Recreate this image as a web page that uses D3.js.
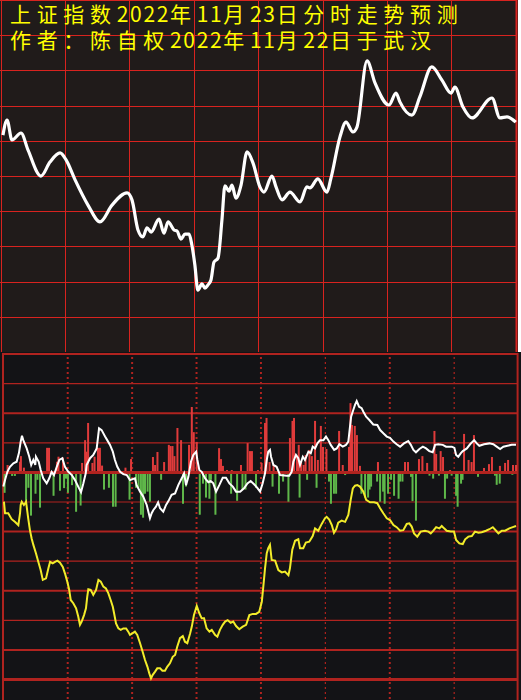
<!DOCTYPE html>
<html>
<head>
<meta charset="utf-8">
<script src="https://cdn.jsdelivr.net/npm/d3@7"></script>
<style>
    body { margin: 0; background: #000; }
    svg { display: block; }
</style>
</head>
<body>
<div class="chart"></div>
<script>
const titleLines = ["上证指数2022年11月23日分时走势预测", "作者：陈自权2022年11月22日于武汉"]

// minute of session (0-240), relative index level (0 = panel bottom, 100 = top)
const priceLine = [[1.1,61.4],[3.0,65.7],[5.3,60.0],[9.5,62.0],[12.8,57.1],[18.8,49.7],[23.0,53.7],[27.7,56.3],[30.5,54.3],[34.7,48.6],[40.7,41.4],[46.3,36.6],[51.9,41.4],[58.9,44.9],[61.2,42.9],[64.0,34.3],[66.3,32.3],[68.2,34.9],[70.1,33.7],[73.8,37.4],[76.1,33.4],[78.0,36.6],[80.8,34.3],[82.2,34.0],[84.0,31.7],[85.9,33.1],[87.8,33.1],[89.1,30.0],[90.5,24.3],[91.9,17.1],[93.8,18.9],[95.2,17.7],[96.6,18.6],[98.0,20.0],[99.4,25.1],[101.3,26.3],[103.1,37.1],[104.5,46.9],[106.4,45.4],[107.8,47.1],[109.6,43.4],[112.0,47.1],[114.8,56.6],[117.6,53.4],[120.8,46.6],[122.7,45.1],[126.4,49.7],[128.3,46.6],[131.1,42.9],[134.8,45.1],[139.5,42.3],[142.7,46.6],[144.1,46.3],[147.8,48.9],[152.0,45.1],[153.9,49.1],[158.1,60.9],[160.9,65.1],[164.1,62.3],[166.0,63.7],[170.7,82.6],[174.4,76.3],[180.9,70.0],[184.2,73.4],[186.0,70.9],[191.6,67.1],[195.3,72.3],[200.9,80.9],[205.6,77.1],[209.8,73.4],[211.6,75.1],[215.4,69.4],[219.6,66.3],[228.9,72.0],[232.6,66.3],[235.9,66.6],[240.0,65.1]]

// lower panel: white oscillator
const flowLine = [[0,-4.8],[0.8,-2.6],[1.9,0.2],[3.1,1.9],[4.7,3.1],[6.2,3.6],[7.3,6.6],[8.1,10.4],[8.7,12.4],[9.3,10.9],[10.9,8.1],[12.1,5.3],[13.0,2.5],[14.0,4.2],[14.9,2.5],[15.2,5.3],[16.5,3.6],[17.4,0.8],[18.6,-2.0],[20.2,-3.7],[21.4,-2.0],[22.5,0.2],[23.6,-0.9],[24.9,1.9],[26.1,4.2],[27.5,4.8],[28.7,1.9],[30.3,0.2],[31.9,-0.9],[33.4,-2.6],[35.3,-5.4],[36.2,-6.7],[37.3,-3.7],[38.4,-0.3],[38.8,2.5],[40.4,4.8],[41.9,5.9],[43.5,8.1],[44.6,14.9],[45.8,14.3],[47.4,12.1],[48.4,10.9],[49.7,9.3],[51.0,7.0],[52.0,4.2],[53.1,1.9],[54.4,0.2],[55.9,-0.6],[57.5,-0.9],[59.0,-2.6],[61.3,-2.0],[62.1,-4.3],[63.7,-6.5],[65.2,-8.2],[66.8,-11.0],[68.3,-15.5],[69.1,-13.8],[69.9,-12.7],[71.1,-11.6],[72.1,-10.1],[73.0,-12.1],[74.5,-13.3],[75.8,-11.0],[76.9,-9.7],[78.4,-7.6],[80.0,-7.1],[81.5,-4.3],[83.1,-2.0],[84.2,-0.3],[85.1,-4.3],[86.2,-1.5],[87.4,3.6],[88.5,5.9],[89.8,7.0],[90.4,4.2],[91.3,0.8],[92.4,0.2],[94.0,-2.0],[95.5,-3.3],[96.6,-2.9],[97.8,-3.7],[99.1,-6.5],[100.6,-4.3],[102.2,-1.8],[103.7,-1.8],[105.3,-3.7],[106.9,-4.8],[108.4,-6.5],[110.3,-6.5],[112.1,-5.4],[113.7,-3.7],[115.2,-2.9],[116.8,-4.0],[118.3,-5.2],[119.6,-6.5],[120.8,-3.7],[121.9,-0.3],[122.7,4.2],[123.4,7.0],[124.2,7.6],[124.7,5.3],[125.8,2.5],[127.3,1.9],[128.9,-0.9],[132.0,-1.1],[133.2,-1.1],[134.3,0.2],[135.1,3.6],[136.3,5.9],[137.4,4.8],[138.2,2.5],[139.5,5.3],[140.5,4.2],[142.1,7.0],[143.2,6.5],[144.1,8.7],[145.2,8.1],[146.3,9.8],[147.5,10.9],[149.1,10.9],[150.3,12.1],[151.4,10.9],[152.5,9.3],[154.1,7.6],[155.3,8.1],[156.5,9.5],[158.1,8.7],[159.6,9.3],[160.7,10.4],[161.2,13.7],[162.0,18.8],[163.0,21.1],[163.8,22.8],[164.6,24.1],[165.7,22.2],[166.9,21.7],[167.7,20.5],[169.0,18.8],[170.5,17.7],[172.3,16.2],[174.2,16.0],[175.5,14.3],[177.0,13.2],[178.6,12.1],[180.1,11.7],[181.7,10.4],[183.2,9.5],[184.8,8.7],[186.6,9.8],[188.6,10.6],[189.8,9.3],[191.0,7.6],[192.2,6.8],[193.8,7.9],[195.4,8.7],[196.9,8.1],[198.4,7.2],[200.0,6.8],[201.1,9.3],[202.6,9.5],[204.7,9.3],[206.2,8.7],[208.9,8.7],[210.1,8.3],[210.9,5.9],[211.9,5.3],[213.1,6.5],[214.0,7.2],[215.9,8.1],[217.4,9.5],[219.3,10.9],[220.5,9.8],[221.7,9.0],[223.9,9.5],[226.4,9.8],[228.2,9.5],[229.8,8.7],[231.4,7.9],[232.9,8.7],[234.8,9.0],[236.8,9.3],[238.8,9.3]]

// lower panel: yellow line
const avgLine = [[0.3,-9.9],[0.8,-13.8],[2.3,-13.8],[3.9,-15.8],[5.4,-16.7],[7.0,-17.8],[7.8,-13.8],[8.1,-11.0],[8.6,-9.9],[9.6,-11.0],[10.6,-9.9],[11.6,-15.5],[12.4,-19.5],[13.2,-22.3],[14.0,-24.5],[15.2,-27.3],[16.3,-30.2],[17.4,-33.0],[18.4,-36.3],[19.9,-35.8],[21.0,-32.4],[21.8,-30.2],[23.0,-30.7],[24.1,-30.2],[25.2,-29.8],[26.4,-30.5],[27.7,-31.9],[28.7,-34.1],[29.8,-36.9],[30.7,-39.7],[31.4,-43.1],[32.6,-44.2],[33.9,-45.9],[34.9,-48.7],[35.7,-51.5],[36.5,-50.4],[37.6,-48.2],[38.5,-45.9],[39.1,-42.0],[39.6,-39.5],[40.7,-39.7],[41.9,-41.4],[43.2,-39.7],[44.3,-36.3],[45.4,-36.9],[46.6,-38.6],[47.8,-39.2],[48.9,-40.8],[50.0,-43.1],[51.0,-45.4],[51.6,-47.6],[52.5,-51.0],[53.6,-52.7],[54.7,-53.2],[55.9,-52.7],[57.2,-52.7],[58.2,-53.8],[59.0,-54.9],[60.1,-54.4],[61.3,-53.8],[62.4,-54.9],[63.7,-57.7],[64.9,-60.6],[66.0,-63.4],[67.1,-65.6],[68.0,-67.9],[68.8,-69.6],[69.6,-68.4],[70.7,-67.3],[71.7,-66.2],[73.0,-66.2],[74.1,-67.0],[75.3,-67.0],[76.4,-65.6],[77.6,-64.5],[78.9,-62.3],[80.0,-61.7],[81.0,-58.9],[82.3,-56.0],[83.6,-55.3],[84.6,-57.2],[85.7,-57.7],[87.0,-54.4],[87.8,-52.1],[88.8,-48.2],[90.1,-45.1],[91.3,-47.6],[92.4,-49.3],[93.5,-49.3],[94.7,-52.7],[96.0,-53.8],[97.1,-53.2],[98.6,-54.9],[99.7,-55.5],[100.9,-53.2],[102.2,-51.5],[103.3,-50.4],[104.5,-49.9],[105.9,-50.8],[107.1,-50.4],[108.4,-51.9],[109.9,-53.0],[111.5,-52.1],[113.1,-51.5],[114.6,-48.2],[116.2,-47.8],[117.7,-47.8],[119.2,-47.1],[120.4,-43.7],[121.1,-38.6],[121.9,-32.4],[122.7,-27.3],[123.4,-25.6],[124.2,-24.5],[125.0,-29.6],[126.6,-29.8],[128.1,-33.0],[129.7,-33.8],[131.2,-33.5],[132.8,-34.7],[133.5,-32.4],[134.6,-26.1],[135.9,-23.1],[137.4,-22.6],[138.2,-25.6],[139.7,-25.6],[140.9,-23.7],[142.5,-23.4],[144.1,-21.5],[145.2,-18.9],[146.7,-19.7],[148.3,-17.4],[149.8,-15.5],[150.6,-15.0],[151.8,-15.9],[153.0,-17.8],[154.0,-20.4],[155.0,-19.2],[156.0,-17.0],[157.6,-16.3],[159.2,-16.7],[160.7,-14.4],[161.8,-9.3],[162.8,-5.4],[163.8,-4.5],[164.9,-4.3],[166.1,-4.8],[167.7,-6.5],[169.0,-9.3],[170.8,-10.1],[172.7,-10.1],[174.2,-10.4],[175.5,-12.1],[177.0,-13.8],[178.6,-15.5],[180.1,-16.1],[181.7,-17.8],[183.2,-18.5],[184.8,-19.7],[186.3,-19.5],[187.9,-17.4],[189.1,-17.2],[190.2,-18.3],[191.3,-20.6],[192.8,-21.7],[194.4,-20.0],[196.4,-19.7],[198.0,-20.0],[199.1,-20.6],[200.3,-19.7],[201.6,-18.5],[203.1,-18.9],[204.2,-18.1],[205.3,-18.9],[206.5,-19.7],[208.4,-20.0],[209.9,-20.0],[210.9,-22.8],[212.4,-24.0],[214.0,-24.2],[215.1,-22.6],[216.6,-21.7],[218.2,-21.5],[219.7,-20.0],[221.3,-20.4],[222.8,-20.2],[224.8,-19.7],[226.4,-19.2],[228.0,-18.5],[229.5,-19.7],[230.6,-20.6],[232.2,-19.7],[233.7,-19.7],[235.7,-18.9],[237.3,-18.5],[238.8,-18.1]]

// red bars (above zero) and green bars (below zero)
const upBars = [[2.0,2.5],[7.8,3.6],[8.2,5.5],[9.6,1.6],[20.4,8.3],[21.3,8.3],[25.0,3.6],[25.7,5.3],[27.8,5.0],[36.7,3.2],[38.1,10.9],[38.8,7.0],[39.5,16.7],[41.5,3.2],[42.5,5.3],[44.1,8.3],[45.0,8.3],[46.0,2.3],[56.9,1.6],[59.5,4.5],[69.7,5.2],[70.7,2.5],[71.8,6.9],[74.9,3.5],[77.1,9.3],[77.9,8.9],[78.8,8.9],[79.7,5.5],[81.1,15.0],[82.8,10.9],[86.5,9.3],[87.8,22.1],[88.7,13.6],[90.1,10.3],[100.5,8.2],[101.4,4.5],[102.3,2.2],[104.2,0.8],[106.4,0.8],[110.7,2.5],[113.8,9.9],[114.9,7.2],[115.8,7.2],[118.6,0.8],[120.3,3.2],[121.9,16.7],[122.6,18.4],[124.0,3.5],[125.9,2.5],[133.5,11.6],[134.7,17.4],[135.4,18.4],[136.8,5.5],[137.6,9.3],[138.7,3.9],[139.9,2.5],[140.8,5.9],[142.6,7.6],[143.7,5.5],[145.2,17.4],[146.5,4.2],[147.9,15.7],[148.9,8.6],[150.5,7.9],[156.4,14.0],[158.1,2.5],[161.0,8.6],[161.7,23.4],[162.4,16.0],[163.7,15.7],[164.7,12.6],[166.1,2.2],[174.5,3.5],[187.1,3.5],[188.5,3.5],[193.6,4.5],[195.2,5.5],[197.4,3.2],[200.8,14.0],[201.6,6.2],[203.7,7.2],[204.8,5.2],[208.1,0.8],[214.6,13.0],[216.7,4.2],[218.1,3.5],[219.2,12.6],[223.9,1.5],[226.2,2.8],[227.6,5.2],[231.3,2.2],[233.7,3.2],[235.1,4.2],[237.4,2.5],[238.8,2.5]]
const downBars = [[0.6,-6.9],[4.1,-1.2],[5.4,-1.2],[10.6,-10.6],[11.7,-5.2],[12.9,-14.6],[15.0,-7.2],[15.9,-2.5],[17.1,-11.9],[23.4,-7.9],[26.4,-6.2],[28.3,-5.3],[29.2,-2.1],[30.1,-6.9],[32.0,-4.3],[33.9,-13.3],[36.0,-11.2],[46.9,-5.8],[49.2,-5.2],[51.1,-11.6],[52.3,-11.6],[58.8,-9.2],[61.8,-5.2],[63.0,-5.2],[64.1,-14.3],[65.1,-15.3],[66.0,-7.2],[67.2,-6.5],[68.3,-9.9],[73.5,-2.5],[83.7,-10.6],[85.1,-4.8],[91.5,-14.3],[93.0,-3.8],[94.4,-8.5],[96.0,-8.9],[96.7,-2.5],[98.8,-14.3],[106.1,-7.2],[108.9,-9.6],[111.4,-5.8],[112.8,-5.8],[117.7,-5.2],[125.4,-4.8],[128.4,-7.2],[130.3,-3.1],[132.8,-9.9],[138.0,-8.5],[141.5,-2.5],[145.9,-5.2],[151.7,-3.1],[152.6,-10.6],[154.0,-7.2],[155.0,-7.2],[159.2,-0.9],[166.8,-7.2],[168.5,-8.5],[169.9,-8.5],[170.6,-5.8],[171.3,-4.8],[174.1,-3.1],[175.5,-9.9],[176.9,-6.5],[177.6,-10.6],[179.2,-7.2],[180.6,-2.5],[182.0,-7.9],[184.1,-8.9],[184.8,-3.1],[185.9,-3.1],[189.9,-1.5],[190.6,-9.7],[192.2,-16.3],[198.5,-1.1],[200.2,-2.1],[202.9,-1.1],[205.7,-8.9],[206.7,-2.1],[208.8,-1.1],[210.9,-7.9],[211.6,-11.6],[213.2,-3.8],[213.9,-2.5],[221.1,-1.5],[229.0,-1.1],[229.8,-4.2],[231.2,-3.8],[237.1,-0.8]]

const W = 521, H = 700
const topH = 352

const svg = d3.select(".chart")
    .append("svg")
    .attr("width", W)
    .attr("height", H)

// panel backgrounds
svg.append("rect").attr("x", 0).attr("y", 0).attr("width", W).attr("height", topH).attr("fill", "#fff")
svg.append("rect").attr("x", 0).attr("y", 0).attr("width", 518).attr("height", topH).attr("fill", "#201b1a")
svg.append("rect").attr("x", 0).attr("y", topH).attr("width", W).attr("height", H - topH).attr("fill", "#131316")

// scales
const xTop = d3.scaleLinear().domain([0, 240]).range([0.6, 515.8])
const yTop = d3.scaleLinear().domain([0, 100]).range([350, 0])
const yTopGrid = d3.scaleLinear().domain([0, 10]).range([topH, 0])

const xBot = d3.scaleLinear().domain([0, 240]).range([3.3, 518.6])
const yBot = d3.scaleLinear().domain([-70, 40]).range([679.6, 354])

// top grid
svg.append("g")
    .selectAll("line")
    .data(d3.range(0, 241, 30))
    .join("line")
    .attr("x1", d => Math.round(xTop(d)) + 0.5)
    .attr("x2", d => Math.round(xTop(d)) + 0.5)
    .attr("y1", 0)
    .attr("y2", topH)
    .attr("stroke", "#d8231f")
    .attr("stroke-width", d => d == 240 ? 2 : 1)

svg.append("g")
    .selectAll("line")
    .data(d3.range(1, 11))
    .join("line")
    .attr("x1", 0)
    .attr("x2", 517)
    .attr("y1", d => Math.round(yTopGrid(d)) + 0.5)
    .attr("y2", d => Math.round(yTopGrid(d)) + 0.5)
    .attr("stroke", "#d8231f")
    .attr("stroke-width", 1)

// title: full-width cells for CJK, half-width cells for digits
function splitRuns(str) {
    let runs = []
    let x = 10
    for (const ch of str) {
        const wide = ch.charCodeAt(0) > 255
        const last = runs[runs.length - 1]
        if (last && last.wide == wide) last.text += ch
        else runs.push({ text: ch, wide: wide, x: x })
        x += wide ? 26.67 : 13.33
    }
    return runs
}

const title = svg.append("g")
    .style("font-family", "'Noto Sans CJK SC', sans-serif")
    .style("font-size", "21px")
    .attr("fill", "#ffff00")

titleLines.forEach((line, i) => {
    title.append("text")
        .attr("y", 22 + i * 25.5)
        .selectAll("tspan")
        .data(splitRuns(line))
        .join("tspan")
        .attr("x", d => d.x)
        .style("letter-spacing", d => d.wide ? "5.67px" : "1.7px")
        .text(d => d.text)
})

// price line
const priceGen = d3.line()
    .x(d => xTop(d[0]))
    .y(d => yTop(d[1]))
    .curve(d3.curveMonotoneX)

svg.append("path")
    .datum(priceLine)
    .attr("fill", "none")
    .attr("stroke", "#fff")
    .attr("stroke-width", 3.2)
    .attr("stroke-linejoin", "round")
    .attr("d", priceGen)

// lower grid: horizontal lines
const gridVals = d3.range(-70, 41, 10)
svg.append("g")
    .selectAll("line")
    .data(gridVals)
    .join("line")
    .attr("x1", 3)
    .attr("x2", 518)
    .attr("y1", d => yBot(d))
    .attr("y2", d => yBot(d))
    .attr("stroke", "#b0231f")
    .attr("stroke-width", d => (d == 0 || d == -70) ? 3 : (d % 20 == 0 ? 2 : 1.2))

// lower grid: dotted verticals
svg.append("g")
    .selectAll("line")
    .data(d3.range(30, 211, 30))
    .join("line")
    .attr("x1", d => xBot(d))
    .attr("x2", d => xBot(d))
    .attr("y1", 357)
    .attr("y2", H)
    .attr("stroke", "#b0231f")
    .attr("stroke-width", d => (d == 150 || d == 210) ? 1.2 : 2)
    .attr("stroke-dasharray", "2 3")

// borders of lower panel
svg.append("g")
    .selectAll("line")
    .data([3, 517.6])
    .join("line")
    .attr("x1", d => d)
    .attr("x2", d => d)
    .attr("y1", 353)
    .attr("y2", H)
    .attr("stroke", "#b0231f")
    .attr("stroke-width", 2)

// bars
svg.append("g")
    .selectAll("rect")
    .data(upBars)
    .join("rect")
    .attr("x", d => xBot(d[0]) - 1)
    .attr("width", 2)
    .attr("y", d => yBot(d[1]))
    .attr("height", d => yBot(0) - yBot(d[1]))
    .attr("fill", "#e03b3b")

svg.append("g")
    .selectAll("rect")
    .data(downBars)
    .join("rect")
    .attr("x", d => xBot(d[0]) - 1)
    .attr("width", 2)
    .attr("y", yBot(0))
    .attr("height", d => yBot(d[1]) - yBot(0))
    .attr("fill", "#5fb84a")

// zero line redrawn over bar bases
svg.append("line")
    .attr("x1", 3)
    .attr("x2", 518)
    .attr("y1", yBot(0))
    .attr("y2", yBot(0))
    .attr("stroke", "#b0231f")
    .attr("stroke-width", 3)

const lowGen = d3.line()
    .x(d => xBot(d[0]))
    .y(d => yBot(d[1]))

svg.append("path")
    .datum(avgLine)
    .attr("fill", "none")
    .attr("stroke", "#f2ec2a")
    .attr("stroke-width", 2)
    .attr("d", lowGen)

svg.append("path")
    .datum(flowLine)
    .attr("fill", "none")
    .attr("stroke", "#fff")
    .attr("stroke-width", 2)
    .attr("d", lowGen)
</script>
</body>
</html>
